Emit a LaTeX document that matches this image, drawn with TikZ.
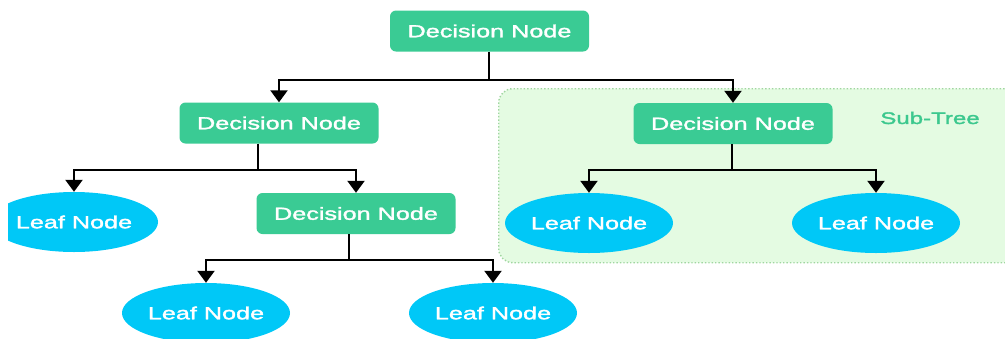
\documentclass[tikz,border=0pt]{standalone}
\usepackage{fontspec}
\setmainfont{Liberation Sans}
\newfontfamily\labelfont[FakeStretch=1.44,FakeBold=1.8]{Liberation Sans}
\usetikzlibrary{arrows.meta,shapes.geometric}
\definecolor{decgreen}{HTML}{3ACB94}
\definecolor{leafblue}{HTML}{00C8F7}
\definecolor{subfill}{HTML}{E4FBE2}
\definecolor{subedge}{HTML}{A0D6A0}
\definecolor{subtext}{HTML}{3CC88E}
\begin{document}
\begin{tikzpicture}[x=1pt,y=-1pt,
  lbl/.style={font=\labelfont\fontsize{17.5}{20}\selectfont},
  decision/.style={lbl, rectangle, rounded corners=6pt, fill=decgreen, text=white,
    minimum width=199pt, minimum height=41pt, inner sep=0pt},
  leaf/.style={lbl, ellipse, fill=leafblue, text=white,
    minimum width=168pt, minimum height=60pt, inner sep=0pt},
  subbox/.style={rectangle, rounded corners=14pt, fill=subfill, draw=subedge,
    dotted, line width=1.4pt, inner sep=0pt},
  wire/.style={line width=2.2pt, black},
  link/.style={wire, -{Triangle[width=17pt,length=12pt]}}]
\useasboundingbox (0,0) rectangle (1005,338);
\clip (0,0) rectangle (1005,338);

% shaded region holding the right-hand sub-tree
\node[subbox, minimum width=530pt, minimum height=174pt, anchor=north west] (sub) at (498,88) {};
\node[lbl, text=subtext, font=\labelfont\fontsize{16.7}{20}\selectfont] (stlabel) at (930,118) {Sub-Tree};

% decision nodes
\node[decision] (d0) at (489.5,31) {Decision Node};
\node[decision] (d1) at (279,123) {Decision Node};
\node[decision] (d3) at (733,123.5) {Decision Node};
\node[decision] (d2) at (356,213.5) {Decision Node};

% leaf nodes
\begin{scope}
  \clip (8,0) rectangle (1005,338);
  \node[leaf] (l1) at (74,222) {Leaf Node};
\end{scope}
\node[leaf] (l2) at (206,313) {Leaf Node};
\node[leaf] (l3) at (493,313) {Leaf Node};
\node[leaf] (l4) at (589,223) {Leaf Node};
\node[leaf] (l5) at (876,223) {Leaf Node};

% branching points
\coordinate (j0) at (489,80);
\coordinate (j1) at (258,170);
\coordinate (j2) at (349,260);
\coordinate (j3) at (732,170);

% root branches
\draw[wire] (d0.south -| j0) -- (j0);
\draw[link] (j0) -| (d1.north);
\draw[link] (j0) -| (d3.north);

% left decision branches
\draw[wire] (d1.south -| j1) -- (j1);
\draw[link] (j1) -| (l1.north);
\draw[link] (j1) -| (d2.north);

% lower decision branches
\draw[wire] (d2.south -| j2) -- (j2);
\draw[link] (j2) -| (l2.north);
\draw[link] (j2) -| (l3.north);

% sub-tree branches
\draw[wire] (d3.south -| j3) -- (j3);
\draw[link] (j3) -| (l4.north);
\draw[link] (j3) -| (l5.north);
\end{tikzpicture}
\end{document}
